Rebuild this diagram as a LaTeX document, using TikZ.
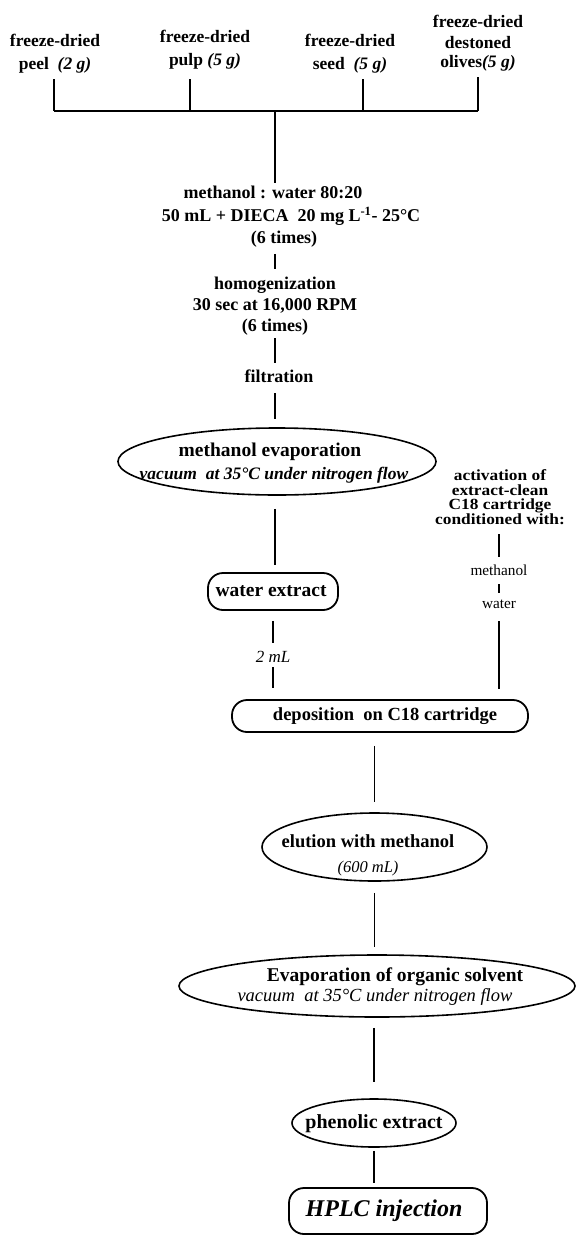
\documentclass[tikz,border=0pt]{standalone}
\usepackage{fontspec}
\setmainfont{Liberation Serif}
\newfontfamily\widefont[FakeStretch=1.12]{Liberation Serif}
\usetikzlibrary{shapes.geometric}
\begin{document}
\begin{tikzpicture}[x=1pt,y=-1pt,
  lbl/.style={inner sep=0pt, align=center, font=\fontsize{17.5}{23}\selectfont\bfseries},
  mid/.style={inner sep=0pt, align=center, font=\fontsize{18}{21}\selectfont\bfseries},
  plain/.style={inner sep=0pt, align=center, font=\fontsize{15.3}{18}\selectfont},
  bar/.style={line width=1.6pt},
  conn/.style={line width=1.3pt},
  oval/.style={draw, ellipse, line width=1.6pt, inner sep=0pt},
  rbox/.style={draw, line width=1.8pt, inner sep=0pt},
]
\useasboundingbox (0,0) rectangle (576,1237);

% top sources
\node[lbl] (peel) at (55,54.2) {freeze-dried\\peel\ \ \textit{(2 g)}};
\node[lbl] (pulp) at (205,50.2) {freeze-dried\\pulp \textit{(5 g)}};
\node[lbl] (seed) at (350,54.2) {freeze-dried\\seed\ \ \textit{(5 g)}};
\node[lbl, font=\fontsize{17.5}{20}\selectfont\bfseries] (olives) at (478,43.7) {freeze-dried\\destoned\\olives\textit{(5 g)}};

\coordinate (j1) at (54,111);
\coordinate (j2) at (190,111);
\coordinate (j3) at (363,111);
\coordinate (j4) at (478,111);
\coordinate (jc) at (275,111);

\draw[bar] (j1) -- (j4);
\draw[bar, shorten <=5.4pt] (j1 |- peel.south) -- (j1);
\draw[bar, shorten <=9.4pt] (j2 |- pulp.south) -- (j2);
\draw[bar, shorten <=5.4pt] (j3 |- seed.south) -- (j3);
\draw[bar, shorten <=5.4pt] (j4 |- olives.south) -- (j4);

% main column
\node[mid, font=\fontsize{18}{22.5}\selectfont\bfseries] (meth) at (284,217)
  {methanol : water 80:20\hspace*{22pt}\\\hspace*{14pt}50 mL + DIECA\ \ 20 mg L\textsuperscript{-1}- 25°C\\(6 times)};
\draw[bar, shorten >=3.5pt] (jc) -- (jc |- meth.north);

\node[mid] (homog) at (275,305.7) {homogenization\\30 sec at 16,000 RPM\\(6 times)};
\draw[conn, shorten <=6pt, shorten >=7.5pt] (homog.north |- meth.south) -- (homog.north);

\node[mid] (filt) at (279,376.7) {filtration};
\draw[conn, shorten <=3pt, shorten >=7.5pt] (homog.south) -- (homog.south |- filt.north);

\node[oval, minimum width=318pt, minimum height=67pt] (evap) at (277,461.5) {};
\node[inner sep=0pt, align=center, font=\fontsize{17.5}{23}\selectfont\bfseries] (evapt) at (274,463)
  {{\fontsize{19.5}{23}\selectfont methanol evaporation}\hspace*{8pt}\\{\itshape vacuum\ \ at 35°C under nitrogen flow}};
\draw[conn, shorten <=10pt, shorten >=8pt] (homog.south |- filt.south) -- (homog.south |- evap.north);

\node[rbox, rounded corners=15pt, minimum width=130pt, minimum height=37pt,
  font=\fontsize{19.5}{23}\selectfont\bfseries] (water) at (273,591.5) {water extract\hspace*{4pt}};
\draw[conn, shorten <=13pt, shorten >=7pt] (homog.south |- evap.south) -- (homog.south |- water.north);

\node[inner sep=0pt, font=\fontsize{17}{20}\selectfont\itshape] (tml) at (273,656.6) {2 mL};
\draw[conn, shorten <=10pt, shorten >=8pt] (tml.north |- water.south) -- (tml.north);

% right column
\node[inner sep=0pt, align=center, font=\fontsize{15.5}{14.5}\selectfont\widefont\bfseries] (act) at (500,497)
  {activation of\\extract-clean\\C18 cartridge\\conditioned with:};
\node[plain] (mth) at (499,569.8) {methanol};
\node[plain] (wat) at (499,604.5) {water};
\draw[conn, shorten <=9.7pt, shorten >=7.5pt] (mth.north |- act.south) -- (mth.north);
\draw[conn, shorten <=9pt, shorten >=7pt] (mth.south) -- (wat.north);

\node[rbox, rounded corners=15pt, minimum width=296pt, minimum height=32pt,
  font=\fontsize{18.5}{22}\selectfont\bfseries] (depo) at (380,716) {\hspace*{10pt}deposition\ \ on C18 cartridge};
\draw[conn, shorten <=5pt, shorten >=11pt] (tml.south) -- (tml.south |- depo.north);
\draw[conn, shorten <=12pt, shorten >=10pt] (wat.south) -- (wat.south |- depo.north);

\node[oval, minimum width=225pt, minimum height=68pt] (elu) at (374.5,847) {};
\node[inner sep=0pt, align=center, font=\fontsize{18.5}{25}\selectfont\bfseries] (elut) at (368,855.5)
  {elution with methanol\\{\mdseries\itshape\fontsize{16.5}{25}\selectfont (600 mL)}};
\draw[conn, shorten <=13pt, shorten >=10pt] (elu.north |- depo.south) -- (elu.north);

\node[oval, minimum width=396pt, minimum height=62pt] (evtwo) at (377,986) {};
\node[inner sep=0pt, align=center, font=\fontsize{18.5}{20}\selectfont] (evtwot) at (375,986.6)
  {\hspace*{40pt}{\bfseries\fontsize{19.5}{20}\selectfont Evaporation of organic solvent}\\{\itshape vacuum\ \ at 35°C under nitrogen flow}};
\draw[conn, shorten <=11pt, shorten >=7pt] (elu.south) -- (elu.south |- evtwo.north);

\node[oval, minimum width=164pt, minimum height=48pt] (phen) at (374,1123) {};
\node[inner sep=0pt, font=\fontsize{20}{24}\selectfont\bfseries] (phent) at (374,1124) {phenolic extract};
\draw[conn, shorten <=10pt, shorten >=16pt] (phen.north |- evtwo.south) -- (phen.north);

\node[rbox, rounded corners=15pt, minimum width=198pt, minimum height=46pt,
  font=\fontsize{24}{28}\selectfont\bfseries\itshape] (hplc) at (388,1211) {HPLC injection\hspace*{8pt}};
\draw[conn, shorten <=3pt, shorten >=4pt] (phen.south) -- (phen.south |- hplc.north);
\end{tikzpicture}
\end{document}
